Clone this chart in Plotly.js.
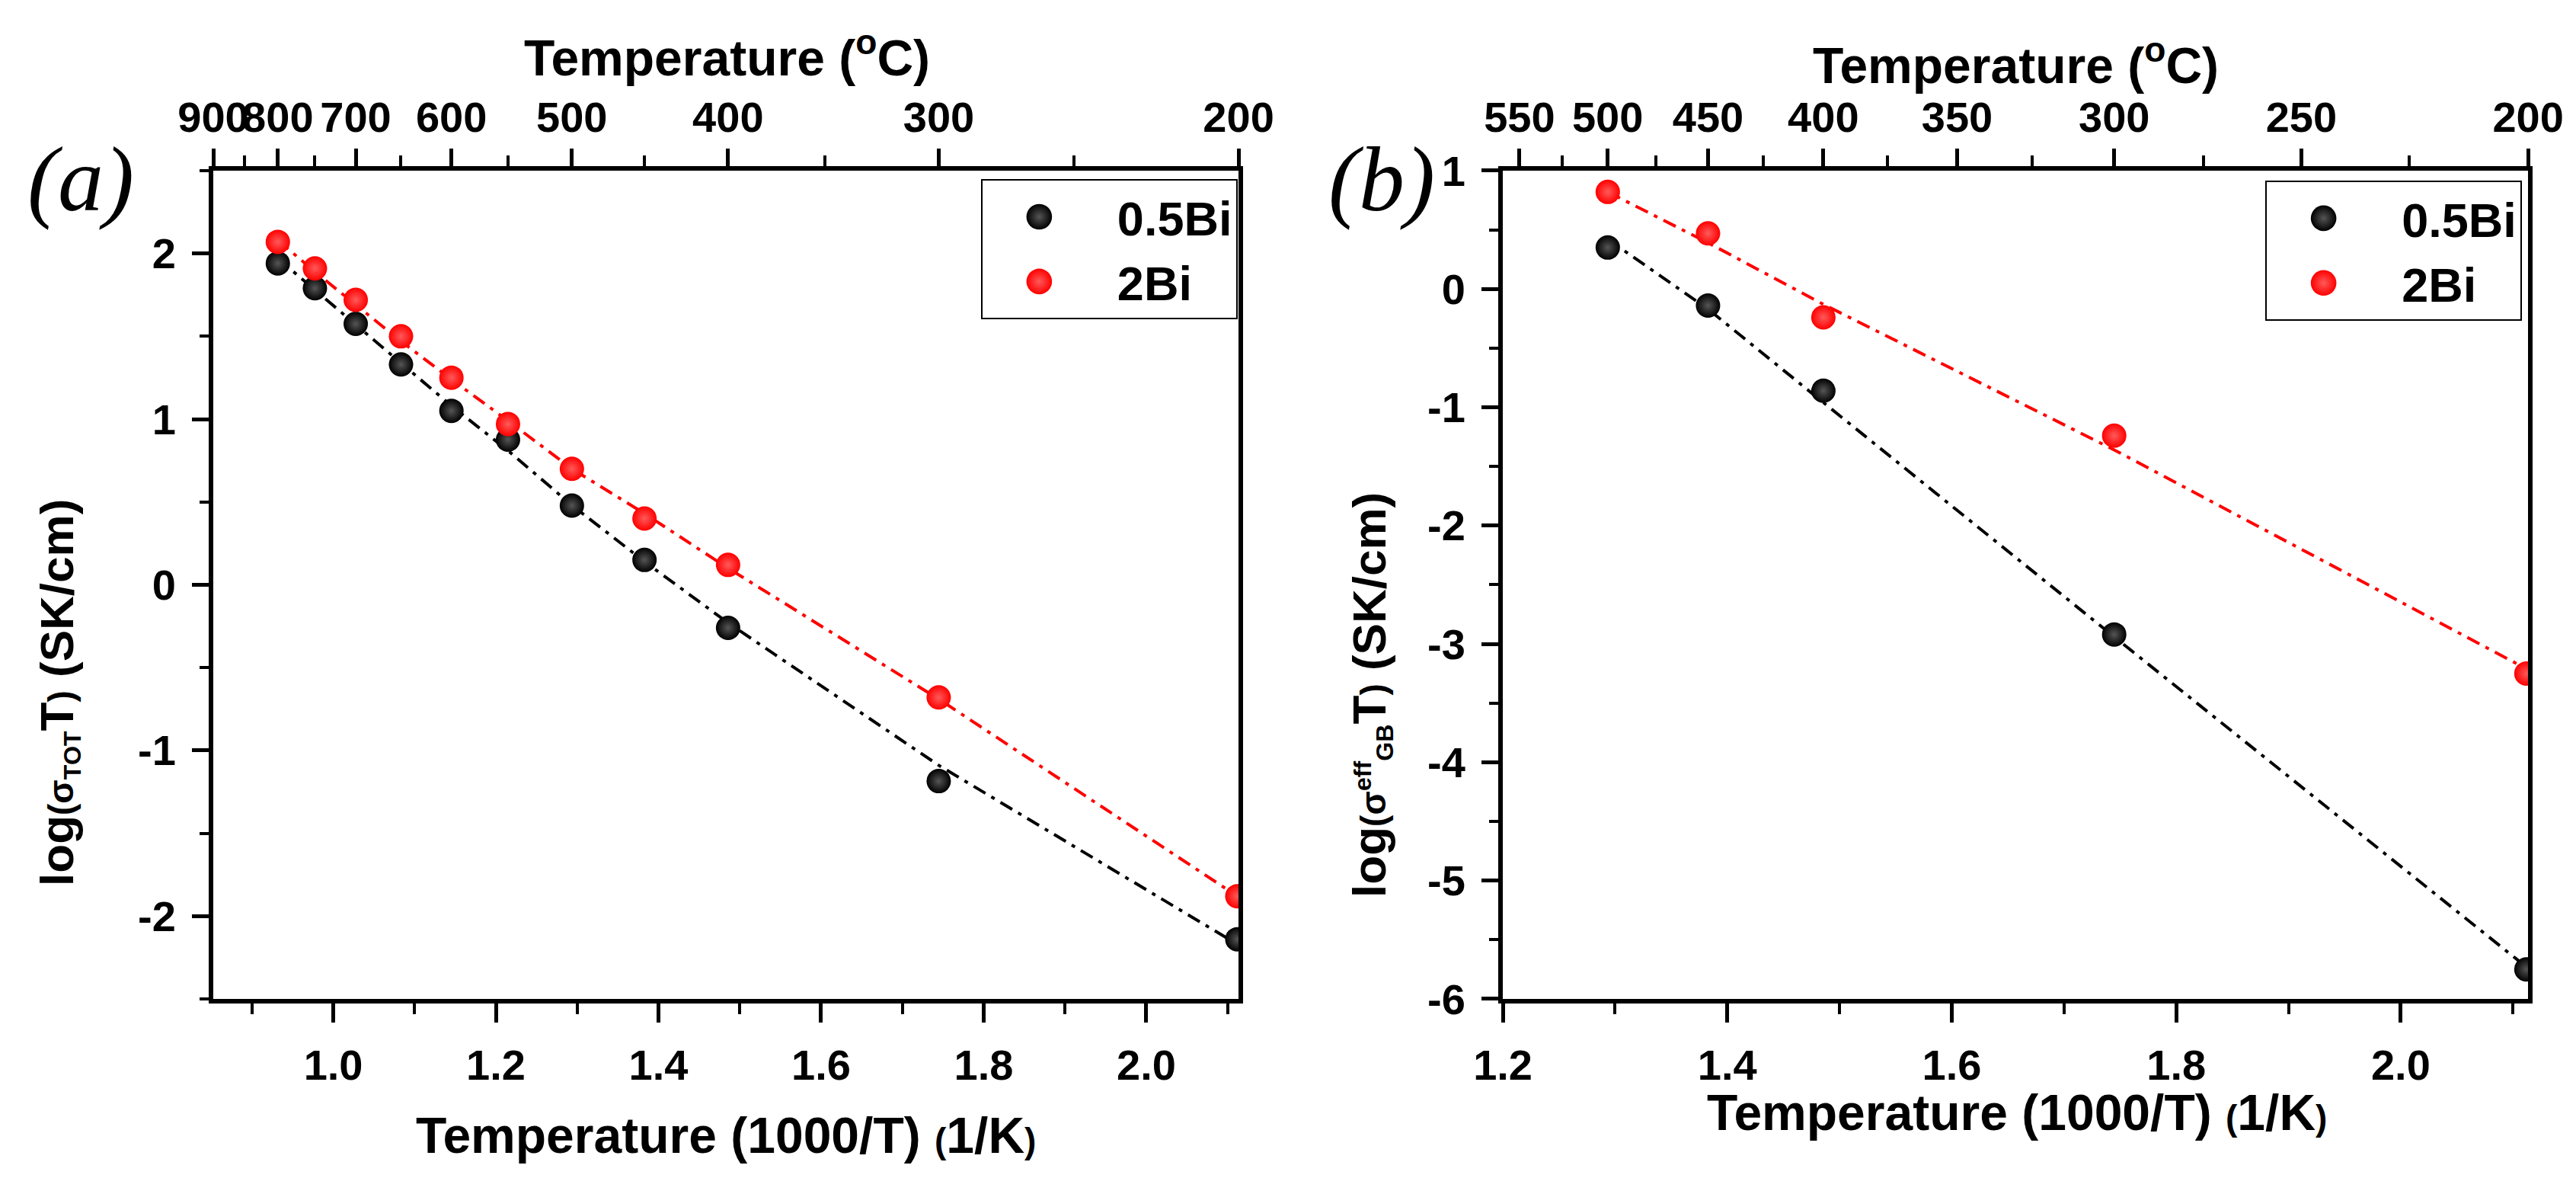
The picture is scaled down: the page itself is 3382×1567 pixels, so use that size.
<!DOCTYPE html>
<html>
<head>
<meta charset="utf-8">
<script src="https://cdn.plot.ly/plotly-3.0.1.min.js"></script>
<style>
  html, body { margin: 0; padding: 0; background: #fff; }
  #chart { width: 3382px; height: 1567px; }
</style>
</head>
<body>
<div id="chart"></div>
<script>
// Panel (a): total conductivity, 1000/T in 1/K
const invTa = [0.9318, 0.9774, 1.0276, 1.0833, 1.1453, 1.2149, 1.2935, 1.3828, 1.4856, 1.7447, 2.112];
const tot05Bi = [1.94, 1.79, 1.575, 1.33, 1.05, 0.876, 0.478, 0.15, -0.26, -1.185, -2.14];
const tot2Bi = [2.07, 1.91, 1.72, 1.50, 1.25, 0.97, 0.70, 0.40, 0.12, -0.68, -1.88];
const fitTot05Bi = [1.97, 1.78, 1.57, 1.34, 1.08, 0.81, 0.48, 0.14, -0.23, -1.09, -2.17];
const fitTot2Bi = [2.08, 1.89, 1.69, 1.47, 1.24, 0.99, 0.70, 0.43, 0.10, -0.69, -1.88];

// Panel (b): effective grain boundary conductivity
const invTb = [1.2935, 1.3828, 1.4856, 1.7447, 2.112];
const gb05Bi = [0.35, -0.14, -0.86, -2.92, -5.75];
const gb2Bi = [0.82, 0.47, -0.24, -1.24, -3.25];
const fitGb05Bi = [0.42, -0.17, -0.96, -2.94, -5.73];
const fitGb2Bi = [0.82, 0.39, -0.13, -1.36, -3.21];

// top axis, temperature in Celsius
const topTicksA = [900, 800, 700, 600, 500, 400, 300, 200];
const topMinorA = [850, 750, 650, 550, 450, 350, 250];
const topTicksB = [550, 500, 450, 400, 350, 300, 250, 200];
const topMinorB = [525, 475, 425, 375, 325, 275, 225];

// left axis ticks
const yTicksA = [-2, -1, 0, 1, 2];
const yMinorA = [-2.5, -1.5, -0.5, 0.5, 1.5, 2.5];
const yTicksB = [-6, -5, -4, -3, -2, -1, 0, 1];
const yMinorB = [-5.5, -4.5, -3.5, -2.5, -1.5, -0.5, 0.5];

const seriesNames = ['0.5Bi', '2Bi'];
const colors = ['#000000', '#ff0000'];
const highlights = ['#555555', '#ff5a5a'];

const toInv = t => 1000 / (t + 273.15);
const FONT = 'Liberation Sans, Arial, sans-serif';
const DASH = '18px,9px,5px,9px';

const rangeA = [toInv(900), toInv(200)];
const rangeB = [1.2, toInv(200)];

function fitLine(x, y, i, xa, ya) {
    return {
        x: x, y: y, xaxis: xa, yaxis: ya, type: 'scatter', mode: 'lines',
        line: {color: colors[i], width: 4, dash: DASH},
        showlegend: false, hoverinfo: 'skip'
    };
}

function points(x, y, i, xa, ya, legend) {
    return {
        x: x, y: y, xaxis: xa, yaxis: ya, type: 'scatter', mode: 'markers',
        name: seriesNames[i], legend: legend,
        marker: {
            size: 32, color: colors[i],
            gradient: {type: 'radial', color: highlights[i]},
            line: {width: 0}
        }
    };
}

const traces = [
    fitLine(invTa, fitTot05Bi, 0, 'x', 'y'),
    fitLine(invTa, fitTot2Bi, 1, 'x', 'y'),
    points(invTa, tot05Bi, 0, 'x', 'y', 'legend'),
    points(invTa, tot2Bi, 1, 'x', 'y', 'legend'),
    fitLine(invTb, fitGb05Bi, 0, 'x3', 'y2'),
    fitLine(invTb, fitGb2Bi, 1, 'x3', 'y2'),
    points(invTb, gb05Bi, 0, 'x3', 'y2', 'legend2'),
    points(invTb, gb2Bi, 1, 'x3', 'y2', 'legend2'),
    // keep the top axes in their subplots
    {x: [], y: [], xaxis: 'x2', yaxis: 'y', type: 'scatter', showlegend: false, hoverinfo: 'skip'},
    {x: [], y: [], xaxis: 'x4', yaxis: 'y2', type: 'scatter', showlegend: false, hoverinfo: 'skip'}
];

const tickFont = {family: FONT, size: 56, color: '#000', weight: 700};
const baseAxis = {
    showline: true, linewidth: 6, linecolor: '#000', mirror: false,
    showgrid: false, zeroline: false, ticks: 'outside', tickcolor: '#000',
    tickwidth: 5, tickfont: tickFont, tickangle: 0, fixedrange: true
};

function bottomAxis(domain, range, tick0, anchor) {
    return Object.assign({}, baseAxis, {
        domain: domain, range: range, anchor: anchor,
        tickmode: 'linear', tick0: tick0, dtick: 0.2, tickformat: '.1f',
        ticklen: 25, ticklabelstandoff: 8,
        minor: {dtick: 0.1, ticklen: 14, tickwidth: 4, tickcolor: '#000', ticks: 'outside'}
    });
}

function topAxis(over, range, anchor, major, minor) {
    return Object.assign({}, baseAxis, {
        overlaying: over, side: 'top', anchor: anchor, range: range,
        tickmode: 'array', tickvals: major.map(toInv), ticktext: major.map(String),
        ticklen: 23, ticklabelstandoff: 0,
        minor: {tickmode: 'array', tickvals: minor.map(toInv), ticklen: 14, tickwidth: 4,
                tickcolor: '#000', ticks: 'outside'}
    });
}

function leftAxis(domain, range, anchor, major, minor) {
    return Object.assign({}, baseAxis, {
        domain: domain, range: range, anchor: anchor, mirror: true,
        tickmode: 'array', tickvals: major, ticktext: major.map(String),
        ticklen: 22, ticklabelstandoff: 10,
        minor: {tickmode: 'array', tickvals: minor, ticklen: 12, tickwidth: 4,
                tickcolor: '#000', ticks: 'outside'}
    });
}

const yDomain = [0.1634, 0.8571];
const titleFont = {family: FONT, size: 66, color: '#000', weight: 700};
const yTitleFont = {family: FONT, size: 62, color: '#000', weight: 700};
const panelFont = {family: 'Liberation Serif, Times New Roman, serif', size: 120, color: '#000', style: 'italic'};

function note(text, x, y, font, angle) {
    return {
        text: text, x: x, y: y, xref: 'paper', yref: 'paper',
        xanchor: 'center', yanchor: 'middle', showarrow: false,
        font: font, textangle: angle || 0
    };
}

const small = "<span style='font-size:46px'>";
const xTitleBottom = "Temperature (1000/T) <span style='font-size:46px'>(</span>1/K<span style='font-size:46px'>)</span>";
const xTitleTop = 'Temperature (<sup>o</sup>C)';

function legendBox(x, y) {
    return {
        x: x, y: y, xanchor: 'left', yanchor: 'top',
        bgcolor: '#fff', bordercolor: '#000', borderwidth: 2,
        font: {family: FONT, size: 63, color: '#000', weight: 700},
        itemwidth: 167, tracegroupgap: 0
    };
}

const layout = {
    width: 3382, height: 1567,
    margin: {l: 0, r: 0, t: 0, b: 0},
    paper_bgcolor: '#fff', plot_bgcolor: '#fff',
    showlegend: true,
    xaxis: bottomAxis([0.0828, 0.4808], rangeA, 1.0, 'y'),
    xaxis2: topAxis('x', rangeA, 'y', topTicksA, topMinorA),
    yaxis: leftAxis(yDomain, [-2.5, 2.5], 'x', yTicksA, yMinorA),
    xaxis3: bottomAxis([0.5834, 0.9814], rangeB, 1.2, 'y2'),
    xaxis4: topAxis('x3', rangeB, 'y2', topTicksB, topMinorB),
    yaxis2: leftAxis(yDomain, [-6, 1], 'x3', yTicksB, yMinorB),
    legend: legendBox(0.3808, 0.85),
    legend2: legendBox(0.8794, 0.8488),
    annotations: [
        note(xTitleTop, 0.2821, 0.955, titleFont),
        note(xTitleTop, 0.7824, 0.948, titleFont),
        note(xTitleBottom, 0.2818, 0.0491, titleFont),
        note(xTitleBottom, 0.783, 0.0683, titleFont),
        note('log' + small + '(σ<sub>TOT</sub></span>T' + small + ')</span> (SK/cm)', 0.0228, 0.42, yTitleFont, -90),
        note('log' + small + '(σ<sup>eff</sup><sub>GB</sub></span>T' + small + ')</span> (SK/cm)', 0.5322, 0.418, yTitleFont, -90),
        note('(a)', 0.0313, 0.85, panelFont),
        note('(b)', 0.5364, 0.85, panelFont)
    ]
};

Plotly.newPlot('chart', traces, layout, {displayModeBar: false, responsive: false}).then(function(gd) {
    // legend symbols are capped in size, enlarge them to match the plot markers
    gd.querySelectorAll('.legendpoints path.scatterpts').forEach(function(p) {
        const t = p.getAttribute('transform') || '';
        p.setAttribute('transform', 'translate(-14,0) ' + t + ' scale(2.1)');
    });
});
</script>
</body>
</html>
